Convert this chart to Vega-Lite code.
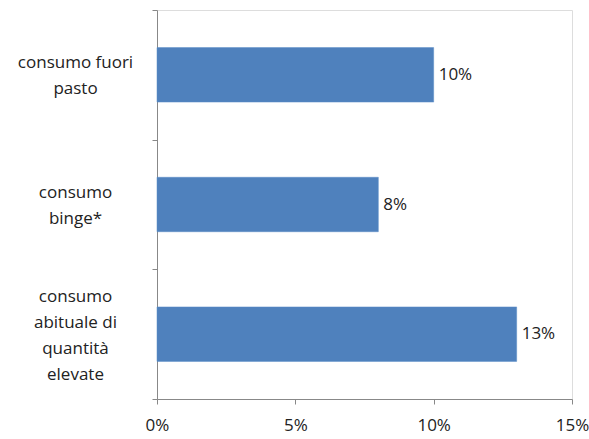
{
  "$schema": "https://vega.github.io/schema/vega-lite/v6.json",
  "autosize": {"type": "none"},
  "padding": {"left": 157, "top": 10, "right": 17, "bottom": 40},
  "width": 415,
  "height": 389,
  "background": "white",
  "data": {"values": [
    {"cat": "|consumo fuori|pasto", "value": 10, "label": "10%"},
    {"cat": "|consumo|binge*", "value": 8, "label": "8%"},
    {"cat": "consumo|abituale di|quantità|elevate", "value": 13, "label": "13%"}
  ]},
  "encoding": {
    "y": {"field": "cat", "type": "nominal", "sort": null,
      "scale": {"paddingInner": 0, "paddingOuter": 0},
      "axis": {"title": null, "labelExpr": "split(datum.label, '|')", "tickBand": "extent",
        "labelAlign": "center", "labelBaseline": "middle", "labelPadding": 77, "tickSize": 5,
        "labelOffset": -38,
        "labelLineHeight": 26, "labelFont": "Open Sans", "labelFontSize": 17, "labelColor": "#222",
        "domainColor": "#888", "tickColor": "#888", "labelLimit": 200}},
    "x": {"field": "value", "type": "quantitative",
      "scale": {"domain": [0, 15], "nice": false},
      "axis": {"title": null, "values": [0, 5, 10, 15], "labelExpr": "datum.value + '%'", "grid": false,
        "tickSize": 5, "labelPadding": 13, "labelFont": "Open Sans", "labelFontSize": 17, "labelColor": "#222",
        "domainColor": "#888", "tickColor": "#888", "labelFlush": false}}
  },
  "layer": [
    {"mark": {"type": "bar", "color": "#4F81BD", "stroke": "#5B8CC6", "strokeWidth": 0.5, "height": {"band": 0.42}}},
    {"mark": {"type": "text", "align": "left", "dx": 5, "font": "Open Sans", "fontSize": 17, "color": "#222"},
      "encoding": {"text": {"field": "label"}}}
  ]
}
